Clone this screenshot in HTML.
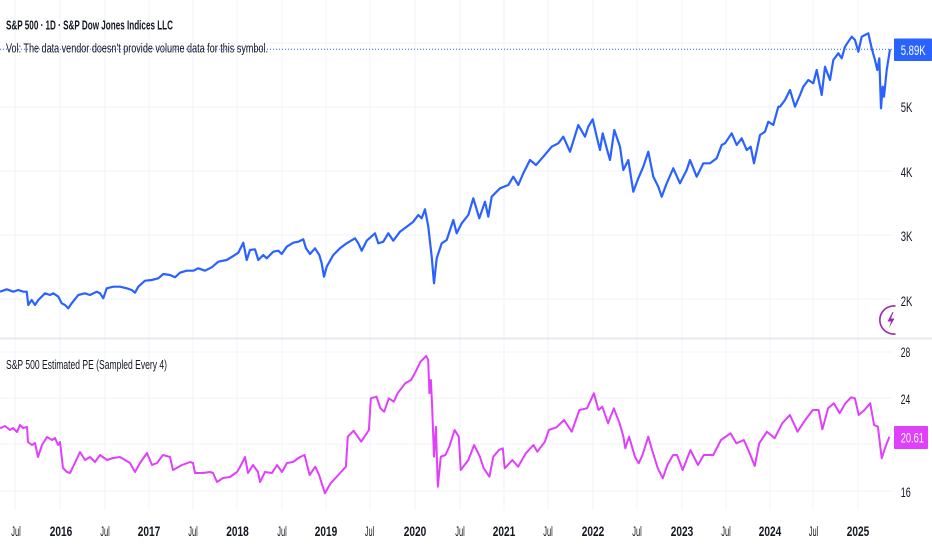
<!DOCTYPE html>
<html>
<head>
<meta charset="utf-8">
<style>
  html,body{margin:0;padding:0;background:#ffffff;}
  svg{display:block;}
  text{font-family:"Liberation Sans Narrow","Liberation Sans",sans-serif;fill:#131722;}
  .b{font-weight:bold;}
</style>
</head>
<body>
<svg width="932" height="550" viewBox="0 0 932 550" xmlns="http://www.w3.org/2000/svg">
  <rect x="0" y="0" width="932" height="550" fill="#ffffff"/>
  <!-- vertical grid -->
  <g stroke="#f0f3fa" stroke-width="1">
    <line x1="15" y1="0" x2="15" y2="510"/>
    <line x1="60" y1="0" x2="60" y2="510"/>
    <line x1="105" y1="0" x2="105" y2="510"/>
    <line x1="149" y1="0" x2="149" y2="510"/>
    <line x1="193" y1="0" x2="193" y2="510"/>
    <line x1="237" y1="0" x2="237" y2="510"/>
    <line x1="282" y1="0" x2="282" y2="510"/>
    <line x1="326" y1="0" x2="326" y2="510"/>
    <line x1="370" y1="0" x2="370" y2="510"/>
    <line x1="415" y1="0" x2="415" y2="510"/>
    <line x1="460" y1="0" x2="460" y2="510"/>
    <line x1="504" y1="0" x2="504" y2="510"/>
    <line x1="548" y1="0" x2="548" y2="510"/>
    <line x1="593" y1="0" x2="593" y2="510"/>
    <line x1="637" y1="0" x2="637" y2="510"/>
    <line x1="682" y1="0" x2="682" y2="510"/>
    <line x1="726" y1="0" x2="726" y2="510"/>
    <line x1="770" y1="0" x2="770" y2="510"/>
    <line x1="813" y1="0" x2="813" y2="510"/>
    <line x1="858" y1="0" x2="858" y2="510"/>
  </g>
  <!-- horizontal grid -->
  <g stroke="#f0f3fa" stroke-width="1">
    <line x1="0" y1="43" x2="893" y2="43"/>
    <line x1="0" y1="107" x2="893" y2="107"/>
    <line x1="0" y1="171" x2="893" y2="171"/>
    <line x1="0" y1="235" x2="893" y2="235"/>
    <line x1="0" y1="299" x2="893" y2="299"/>
    <line x1="0" y1="352" x2="893" y2="352"/>
    <line x1="0" y1="398" x2="893" y2="398"/>
    <line x1="0" y1="444" x2="893" y2="444"/>
    <line x1="0" y1="491" x2="893" y2="491"/>
  </g>
  <!-- pane separator -->
  <line x1="0" y1="338.5" x2="932" y2="338.5" stroke="#e6e8ee" stroke-width="2"/>

  <!-- price dotted line -->
  <line x1="0" y1="49.3" x2="894" y2="49.3" stroke="#2962ff" stroke-width="1" stroke-dasharray="1,2"/>

  <!-- S&P 500 price line -->
  <polyline fill="none" stroke="#2962ff" stroke-width="2.2" stroke-linejoin="round" points="
0,291.7 6.7,289.3 13.3,291.7 18.3,290 23.3,291.7 26.7,291.7 28.3,305 31.7,300 35,305 38.3,300 45,293.3 50,295 53.3,293.3 58.3,296.7 61.7,303.3 65,305 68.3,308.3 71.7,303.3 78.3,295 85,293.3 90,295 96.7,291.7 100,293.3 103.3,298.3 106.7,288.3 113.3,286.7 120,286.7 126.7,288.3 131.7,290 135,292.7 138.3,286.7 145,280.7 151.7,280 158.3,278.3 163.3,274 170,275 175,277.3 180,272.7 186.7,270.7 193.3,270.7 198.3,268.3 205,270.7 211.7,267.3 218.3,261.7 226.7,260 233.3,256 238.3,252.7 243.3,242.7 246.7,260 250,250 255,249.3 258.3,260 263.3,255 266.7,258.3 273.3,251.7 278.3,250.7 281.7,254 286.7,246.7 293.3,242.7 298.3,241.7 303.3,239.3 306,248.3 310,254 315,248.3 319.3,255 321.7,263.3 324,276.7 326.7,266.7 333.3,255 340,248.3 346.7,243.3 355,238.3 358.3,243.3 361.7,250.7 366.7,240.7 375,233.3 378.3,243.3 383.3,241.7 388.3,233.3 393.3,240.7 400,231.7 406.7,226.7 413.3,221.7 418.3,215 421.7,218.3 425,209.3
428.3,226.7 431.7,256.7 434,283.3 436.7,258.3 441.7,243.3 446.7,240 453.3,220 456.7,233.3 461.7,223.3 468.3,215 473.3,198.3 479.3,218.3 485,201.7 488.3,216.7 491.7,196.7 500,188.3 508.3,185 513.3,176.7 518.3,185 523.3,173.3 530,160 536,165 543.3,156.7 551.7,146.7 558.3,143.3 563.3,136.7 570,151.7 578.3,125 585,136.7 588.3,126.7 592.7,119.3 596.7,136.7 600,150 602.7,133.3 606.7,148.3 610,160 614.3,130 620,146.7 623.3,170 628.3,160 633.3,191.7 638.3,178.3 643.3,166.7 648.3,151.7 653.3,176.7 658.3,186.7 661.7,196.7 666.7,183.3 673.3,168.3 680,183.3 686.7,170 690,160 696.7,176.7 703.3,163.3 710,163.3 716.7,158.3 721.7,145 725,143.3 731.7,133.3 736.7,145 741.7,138.3 746.7,150 750.7,146.7 754,163.3 760,135 765,131.7 768.3,121.7 773.3,125 778.3,106.7
780,106.7 785,100 790,90 795,106.7 800,95 803.3,86.7 808.3,80 813.3,83.3 816.7,70 821.7,95 825,66.7 830,80 833.3,60 838.3,53.3 841.7,58.3 845,46.7 848.3,41.7 851.7,36.7 855,40 858.3,51.7 861.7,36.7 865,35 868.3,33.3 871.7,48.3 875,60 877.3,70 879.3,58.3 881,108.3 882.7,86.7 884,96.7 886.7,70 890,49.3"/>

  <!-- PE line -->
  <polyline fill="none" stroke="#e040fb" stroke-width="2" stroke-linejoin="round" points="
0,428.3 5,426 10,430 13,428 17,432 20,425 23,428 27,427 28,442 32,445 35,443 38,457 42,445 47,437 52,440 55,438 58,445 60,442 63,468 67,472 70,473 73,467 80,452 85,460 90,457 95,462 100,455 107,460 113,458 120,457 125,460 130,463 135,472 140,463 147,453 152,465 157,463 163,455 170,457 173,470 182,465 190,462 193,463 195,473 203,473 210,472 213,473 217,482 223,478 230,477 237,472 240,467 245,457 248,473 253,465 258,472 260,482 265,472 272,473 277,465 282,472 287,463 293,462 300,457
304.6,455 309.6,475 315.3,466.7 319.1,475 324.9,493.3 330.6,483.3 338.3,475 345.9,466.7 347.8,436.7 353.6,430.7 361.2,441.7 368.9,430 370.8,398.3 376.5,396.7 380.4,408.3 384.2,411.7 388.8,398.3 393.8,401.7 397.6,393.3 405.2,383.3 411,380 414.8,373.3 420.5,361.7 426.3,356 428.2,360 429.4,393.3 430.9,380 432,403.3 434,456.7 435.9,426.7 437.8,486.7 440.8,456.7 445.4,455 449.3,446.7 454.6,430 458.8,436.7 460.7,470 468.4,460 474.1,445 479.9,456.7 483.7,468.3 489.4,476.7 493.3,456.7 499,450 502.8,448.3 504.7,468.3 512.4,460 518.1,466.7 525.8,453.3 533.4,445 537.3,451.7 544.9,441.7 548.8,430 556.4,427.3 564.1,420 571.7,431.7 579.4,410 587,408.3 593.9,393.3 598.5,410 602.3,406.7 608.1,423.3 613.8,408.3 619.6,423.3 623.4,436.7 625.3,448.3 629.1,436.7 634.9,456.7 638.7,463.3 642.5,455 648.3,436.7 652.1,450 657.8,468.3 662.8,478.3 667.4,465 673.1,455 677,455 682.7,470 690.4,450 698,465 703.7,455 713.3,455 721,440 730.5,433.3 736.3,443.3 743.9,440 749.7,453.3 754.7,466 759.2,443.3 766.9,431.7 774.6,438.3 782.2,423.3 789.9,415 797.5,431.7 805.2,420 812.8,410 818.6,410 822.4,429.3 828.1,408.3 833.9,403.3 839.6,413.3 845.4,403.3 851.1,397.3 854.9,398.3 858.7,415 864.5,410 870.2,403.3 874.1,425 877.9,426.7 881.7,458.3 885.5,446.7 889.4,436.7"/>

  <!-- header texts -->
  <text class="b" x="6" y="29.3" font-size="12.5" textLength="167" lengthAdjust="spacingAndGlyphs">S&amp;P 500 · 1D · S&amp;P Dow Jones Indices LLC</text>
  <text x="6" y="52.7" font-size="13" textLength="262" lengthAdjust="spacingAndGlyphs">Vol: The data vendor doesn't provide volume data for this symbol.</text>
  <text x="6" y="369" font-size="12.5" textLength="161" lengthAdjust="spacingAndGlyphs">S&amp;P 500 Estimated PE (Sampled Every 4)</text>

  <!-- right axis labels price -->
  <text x="900.7" y="112" font-size="14" textLength="11.7" lengthAdjust="spacingAndGlyphs">5K</text>
  <text x="900.7" y="177" font-size="14" textLength="11.7" lengthAdjust="spacingAndGlyphs">4K</text>
  <text x="900.7" y="241" font-size="14" textLength="11.7" lengthAdjust="spacingAndGlyphs">3K</text>
  <text x="900.7" y="306" font-size="14" textLength="11.7" lengthAdjust="spacingAndGlyphs">2K</text>

  <!-- right axis labels PE -->
  <text x="900.7" y="357" font-size="14" textLength="9.5" lengthAdjust="spacingAndGlyphs">28</text>
  <text x="900.7" y="404" font-size="14" textLength="9.5" lengthAdjust="spacingAndGlyphs">24</text>
  <text x="900.7" y="497" font-size="14" textLength="10" lengthAdjust="spacingAndGlyphs">16</text>

  <!-- price label -->
  <rect x="894" y="38.5" width="38" height="22.5" rx="1" fill="#2962ff"/>
  <text x="900.7" y="55" font-size="14" textLength="25" lengthAdjust="spacingAndGlyphs" style="fill:#ffffff">5.89K</text>

  <!-- PE label -->
  <rect x="894" y="426" width="34" height="23" rx="1" fill="#e040fb"/>
  <text x="900.7" y="442.5" font-size="14" textLength="23.3" lengthAdjust="spacingAndGlyphs" style="fill:#ffffff">20.61</text>

  <!-- lightning icon -->
  <path d="M895.5,306.1 A14,14 0 1 0 895.5,333.9" fill="none" stroke="#9c27b0" stroke-width="1.6"/>
  <polygon points="892.5,312 887.5,321.5 891,321.5 889,328 894.5,318.5 891,318.5 893.5,312" fill="#9c27b0"/>

  <!-- time axis labels -->
  <g font-size="14">
    <text x="16" y="536" text-anchor="middle" textLength="9.5" lengthAdjust="spacingAndGlyphs">Jul</text>
    <text class="b" x="61" y="536" text-anchor="middle" textLength="22.5" lengthAdjust="spacingAndGlyphs">2016</text>
    <text x="105" y="536" text-anchor="middle" textLength="9.5" lengthAdjust="spacingAndGlyphs">Jul</text>
    <text class="b" x="149" y="536" text-anchor="middle" textLength="22.5" lengthAdjust="spacingAndGlyphs">2017</text>
    <text x="193" y="536" text-anchor="middle" textLength="9.5" lengthAdjust="spacingAndGlyphs">Jul</text>
    <text class="b" x="237.5" y="536" text-anchor="middle" textLength="22.5" lengthAdjust="spacingAndGlyphs">2018</text>
    <text x="282" y="536" text-anchor="middle" textLength="9.5" lengthAdjust="spacingAndGlyphs">Jul</text>
    <text class="b" x="326" y="536" text-anchor="middle" textLength="22.5" lengthAdjust="spacingAndGlyphs">2019</text>
    <text x="369.5" y="536" text-anchor="middle" textLength="9.5" lengthAdjust="spacingAndGlyphs">Jul</text>
    <text class="b" x="415" y="536" text-anchor="middle" textLength="22.5" lengthAdjust="spacingAndGlyphs">2020</text>
    <text x="460" y="536" text-anchor="middle" textLength="9.5" lengthAdjust="spacingAndGlyphs">Jul</text>
    <text class="b" x="504" y="536" text-anchor="middle" textLength="22.5" lengthAdjust="spacingAndGlyphs">2021</text>
    <text x="548" y="536" text-anchor="middle" textLength="9.5" lengthAdjust="spacingAndGlyphs">Jul</text>
    <text class="b" x="593" y="536" text-anchor="middle" textLength="22.5" lengthAdjust="spacingAndGlyphs">2022</text>
    <text x="637" y="536" text-anchor="middle" textLength="9.5" lengthAdjust="spacingAndGlyphs">Jul</text>
    <text class="b" x="682" y="536" text-anchor="middle" textLength="22.5" lengthAdjust="spacingAndGlyphs">2023</text>
    <text x="726" y="536" text-anchor="middle" textLength="9.5" lengthAdjust="spacingAndGlyphs">Jul</text>
    <text class="b" x="770" y="536" text-anchor="middle" textLength="22.5" lengthAdjust="spacingAndGlyphs">2024</text>
    <text x="813.5" y="536" text-anchor="middle" textLength="9.5" lengthAdjust="spacingAndGlyphs">Jul</text>
    <text class="b" x="858" y="536" text-anchor="middle" textLength="22.5" lengthAdjust="spacingAndGlyphs">2025</text>
  </g>
</svg>
</body>
</html>
